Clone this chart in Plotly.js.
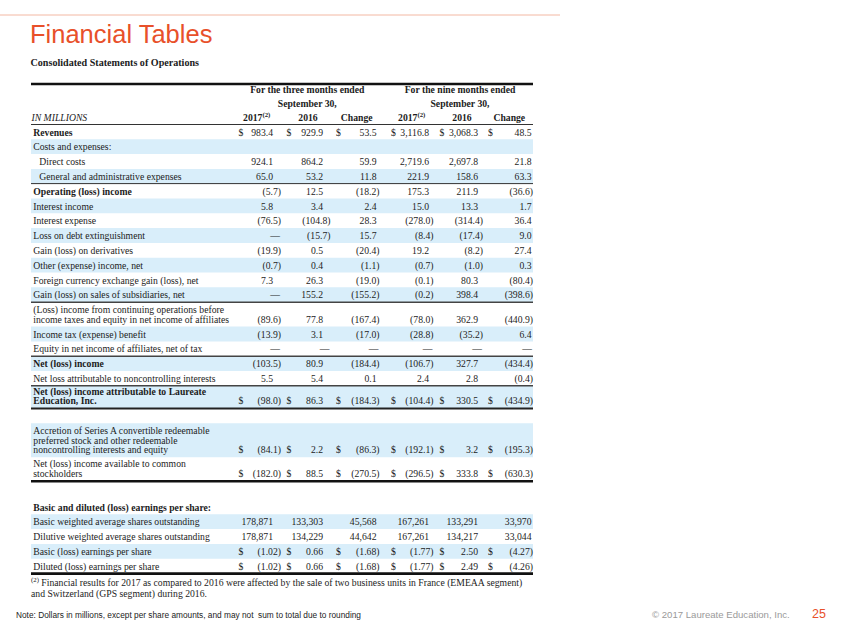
<!DOCTYPE html>
<html><head><meta charset="utf-8">
<script src="https://cdn.plot.ly/plotly-3.0.1.min.js"></script>
<style>html,body{margin:0;padding:0;background:#fff;overflow:hidden}</style>
</head><body><div id="chart" style="width:847px;height:635px"></div>
<script>
// ---------------- DATA ----------------
const pageTitle = "Financial Tables";
const tableTitle = "Consolidated Statements of Operations";
const periodHeaders = ["For the three months ended", "For the nine months ended"];
const periodSub = "September 30,";
const columnHeaders = ["2017<sup>(2)</sup>", "2016", "Change", "2017<sup>(2)</sup>", "2016", "Change"];
const unitLabel = "IN MILLIONS";

const rowLabels = [
  "Revenues",
  "Costs and expenses:",
  "Direct costs",
  "General and administrative expenses",
  "Operating (loss) income",
  "Interest income",
  "Interest expense",
  "Loss on debt extinguishment",
  "Gain (loss) on derivatives",
  "Other (expense) income, net",
  "Foreign currency exchange gain (loss), net",
  "Gain (loss) on sales of subsidiaries, net",
  "(Loss) income from continuing operations before\nincome taxes and equity in net income of affiliates",
  "Income tax (expense) benefit",
  "Equity in net income of affiliates, net of tax",
  "Net (loss) income",
  "Net loss attributable to noncontrolling interests",
  "Net (loss) income attributable to Laureate\nEducation, Inc.",
  "Accretion of Series A convertible redeemable\npreferred stock and other redeemable\nnoncontrolling interests and equity",
  "Net (loss) income available to common\nstockholders",
  "Basic and diluted (loss) earnings per share:",
  "Basic weighted average shares outstanding",
  "Dilutive weighted average shares outstanding",
  "Basic (loss) earnings per share",
  "Diluted (loss) earnings per share"
];
const q3_2017 = ["983.4","","924.1","65.0","(5.7)","5.8","(76.5)","—","(19.9)","(0.7)","7.3","—","(89.6)","(13.9)","—","(103.5)","5.5","(98.0)","(84.1)","(182.0)","","178,871","178,871","(1.02)","(1.02)"];
const q3_2016 = ["929.9","","864.2","53.2","12.5","3.4","(104.8)","(15.7)","0.5","0.4","26.3","155.2","77.8","3.1","—","80.9","5.4","86.3","2.2","88.5","","133,303","134,229","0.66","0.66"];
const q3_change = ["53.5","","59.9","11.8","(18.2)","2.4","28.3","15.7","(20.4)","(1.1)","(19.0)","(155.2)","(167.4)","(17.0)","—","(184.4)","0.1","(184.3)","(86.3)","(270.5)","","45,568","44,642","(1.68)","(1.68)"];
const ytd_2017 = ["3,116.8","","2,719.6","221.9","175.3","15.0","(278.0)","(8.4)","19.2","(0.7)","(0.1)","(0.2)","(78.0)","(28.8)","—","(106.7)","2.4","(104.4)","(192.1)","(296.5)","","167,261","167,261","(1.77)","(1.77)"];
const ytd_2016 = ["3,068.3","","2,697.8","158.6","211.9","13.3","(314.4)","(17.4)","(8.2)","(1.0)","80.3","398.4","362.9","(35.2)","—","327.7","2.8","330.5","3.2","333.8","","133,291","134,217","2.50","2.49"];
const ytd_change = ["48.5","","21.8","63.3","(36.6)","1.7","36.4","9.0","27.4","0.3","(80.4)","(398.6)","(440.9)","6.4","—","(434.4)","(0.4)","(434.9)","(195.3)","(630.3)","","33,970","33,044","(4.27)","(4.26)"];
const dollarRows = ["Revenues","Net (loss) income attributable to Laureate\nEducation, Inc.","Accretion of Series A convertible redeemable\npreferred stock and other redeemable\nnoncontrolling interests and equity","Net (loss) income available to common\nstockholders","Basic (loss) earnings per share","Diluted (loss) earnings per share"];
const boldRows = ["Revenues","Operating (loss) income","Net (loss) income","Net (loss) income attributable to Laureate\nEducation, Inc.","Basic and diluted (loss) earnings per share:"];
const indentRows = ["Direct costs","General and administrative expenses"];
const footnoteLines = ["<sup>(2)</sup> Financial results for 2017 as compared to 2016 were affected by the sale of two business units in France (EMEAA segment)", "and Switzerland (GPS segment) during 2016."];
const noteText = "Note: Dollars in millions, except per share amounts, and may not  sum to total due to rounding";
const copyrightText = "© 2017 Laureate Education, Inc.";
const pageNumber = "25";

// ---------------- LAYOUT (positions / styles) ----------------
const columns = [q3_2017, q3_2016, q3_change, ytd_2017, ytd_2016, ytd_change];
const rowTop =    [124.5,139.3,154.1,168.9,183.7,198.5,213.3,228.1,242.9,257.7,272.5,287.3,302.1,326.6,341.4,356.2,371.0,385.8,423.3,457.3,499.5,514.3,529.1,543.9,558.7];
const rowHeight = [14.8,14.8,14.8,14.8,14.8,14.8,14.8,14.8,14.8,14.8,14.8,14.8,24.5,14.8,14.8,14.8,14.8,22.5,34.0,23.7,14.8,14.8,14.8,14.8,14.8];
const rowBand =   [0,1,0,1,0,1,0,1,0,1,0,1,0,1,0,1,0,1,1,0,0,1,0,1,0];
const colDollarX = [241, 289, 338.5, 393.5, 442, 490.5];
const colPosRight = [273, 323, 376.5, 429, 478, 531.5];
const colNegRight = [281, 330.5, 379.5, 433.5, 483, 533];
const colCenter = [256.7, 308, 356.7, 411.7, 462, 509.3];
const periodCenter = [307.3, 460];
const tableL = 31, tableR = 533;
const serif = "Liberation Serif, Times New Roman, serif";
const sans = "Liberation Sans, Arial, sans-serif";
const txt = "#1c1c1c";
const band = "#d9eefa";
const orange = "#e8502a";
const fs = 9.7, lineGap = 9.8, dyText = 0.9;

const annotations = [];
const shapes = [];
const pts = {x: [], y: [], text: [], pos: [], size: []};
function put(x, y, text, anchor, size) {
  pts.x.push(x); pts.y.push(y + dyText); pts.text.push(text); pts.size.push(size || fs);
  pts.pos.push(anchor === 'right' ? 'middle left' : anchor === 'center' ? 'middle center' : 'middle right');
}
function ann(x, y, text, o) {
  annotations.push({x: x, y: y, xref: 'x', yref: 'y', text: text, showarrow: false,
    xanchor: o.anchor || 'left', yanchor: 'middle', borderpad: 0, borderwidth: 0,
    font: {family: o.family || serif, size: o.size || fs, color: o.color || txt}});
}
function hline(y, w, c, x0, x1) {
  shapes.push({type: 'line', xref: 'x', yref: 'y', x0: x0 === undefined ? tableL : x0, x1: x1 === undefined ? tableR : x1, y0: y, y1: y, line: {color: c, width: w}});
}

// top orange rule, title, subtitle
hline(15, 1, "#f3b8a3", 0, 560);
ann(30, 34, pageTitle, {family: sans, size: 25.5, color: orange});
put(30.5, 62.3, "<b>" + tableTitle + "</b>", 'left', 10.1);

// row bands
rowLabels.forEach((lab, r) => {
  if (rowBand[r]) shapes.push({type: 'rect', xref: 'x', yref: 'y', x0: tableL, x1: tableR, y0: rowTop[r], y1: rowTop[r] + rowHeight[r], fillcolor: band, line: {width: 0}, layer: 'below'});
});

// rules
hline(84, 2.6, "#111");
hline(124.5, 1, "#333");
hline(183.6, 1, "#333");
hline(302.2, 1.5, "#444");
hline(356.2, 1.5, "#444");
hline(385.8, 1.5, "#444");
hline(408.5, 2, "#222");
hline(481.2, 2.6, "#111");
hline(573.6, 2.6, "#111");

// header
periodHeaders.forEach((h, i) => {
  put(periodCenter[i], 90, "<b>" + h + "</b>", 'center');
  put(periodCenter[i], 104, "<b>" + periodSub + "</b>", 'center');
});
columnHeaders.forEach((h, i) => put(colCenter[i], 117.6, "<b>" + h + "</b>", 'center'));
put(31.5, 117.6, "<i>" + unitLabel + "</i>", 'left');

// rows
rowLabels.forEach((lab, r) => {
  const lines = lab.split("\n");
  const n = lines.length;
  const lastY = n > 1 ? rowTop[r] + rowHeight[r] - 7.2 : rowTop[r] + rowHeight[r] / 2 + 0.3;
  const bold = boldRows.indexOf(lab) >= 0;
  const x = indentRows.indexOf(lab) >= 0 ? 39.3 : 33.3;
  lines.forEach((ln, i) => {
    const y = lastY - (n - 1 - i) * lineGap;
    put(x, y, bold ? "<b>" + ln + "</b>" : ln, 'left');
  });
  const hasDollar = dollarRows.indexOf(lab) >= 0;
  columns.forEach((col, c) => {
    const v = col[r];
    if (!v) return;
    if (hasDollar) put(colDollarX[c], lastY, "$", 'center');
    let xr;
    if (v.charAt(0) === "(") xr = colNegRight[c];
    else if (v === "—") xr = colNegRight[c] - 1;
    else xr = colPosRight[c];
    put(xr, lastY, v, 'right');
  });
});

// footnote
put(31, 582.7, footnoteLines[0], 'left');
put(31, 593.3, footnoteLines[1], 'left');

// footer
ann(16, 614.5, noteText, {family: "Liberation Sans Narrow, Arial Narrow, Liberation Sans, sans-serif", size: 8.3, color: "#222"});
ann(790, 614, copyrightText, {family: sans, size: 9.6, color: "#9a9a9a", anchor: 'right'});
ann(826, 613.5, pageNumber, {family: sans, size: 12.5, color: orange, anchor: 'right'});

const layout = {
  width: 847, height: 635, margin: {l: 0, r: 0, t: 0, b: 0},
  paper_bgcolor: '#fff', plot_bgcolor: '#fff', showlegend: false,
  xaxis: {range: [0, 847], visible: false, fixedrange: true},
  yaxis: {range: [635, 0], visible: false, fixedrange: true},
  shapes: shapes, annotations: annotations
};
const traces = [{
  type: 'scatter', mode: 'text', x: pts.x, y: pts.y, text: pts.text, textposition: pts.pos,
  textfont: {family: serif, size: pts.size, color: txt}, hoverinfo: 'skip', cliponaxis: false
}];
Plotly.newPlot('chart', traces, layout, {staticPlot: true, displayModeBar: false});
</script>
</body></html>
